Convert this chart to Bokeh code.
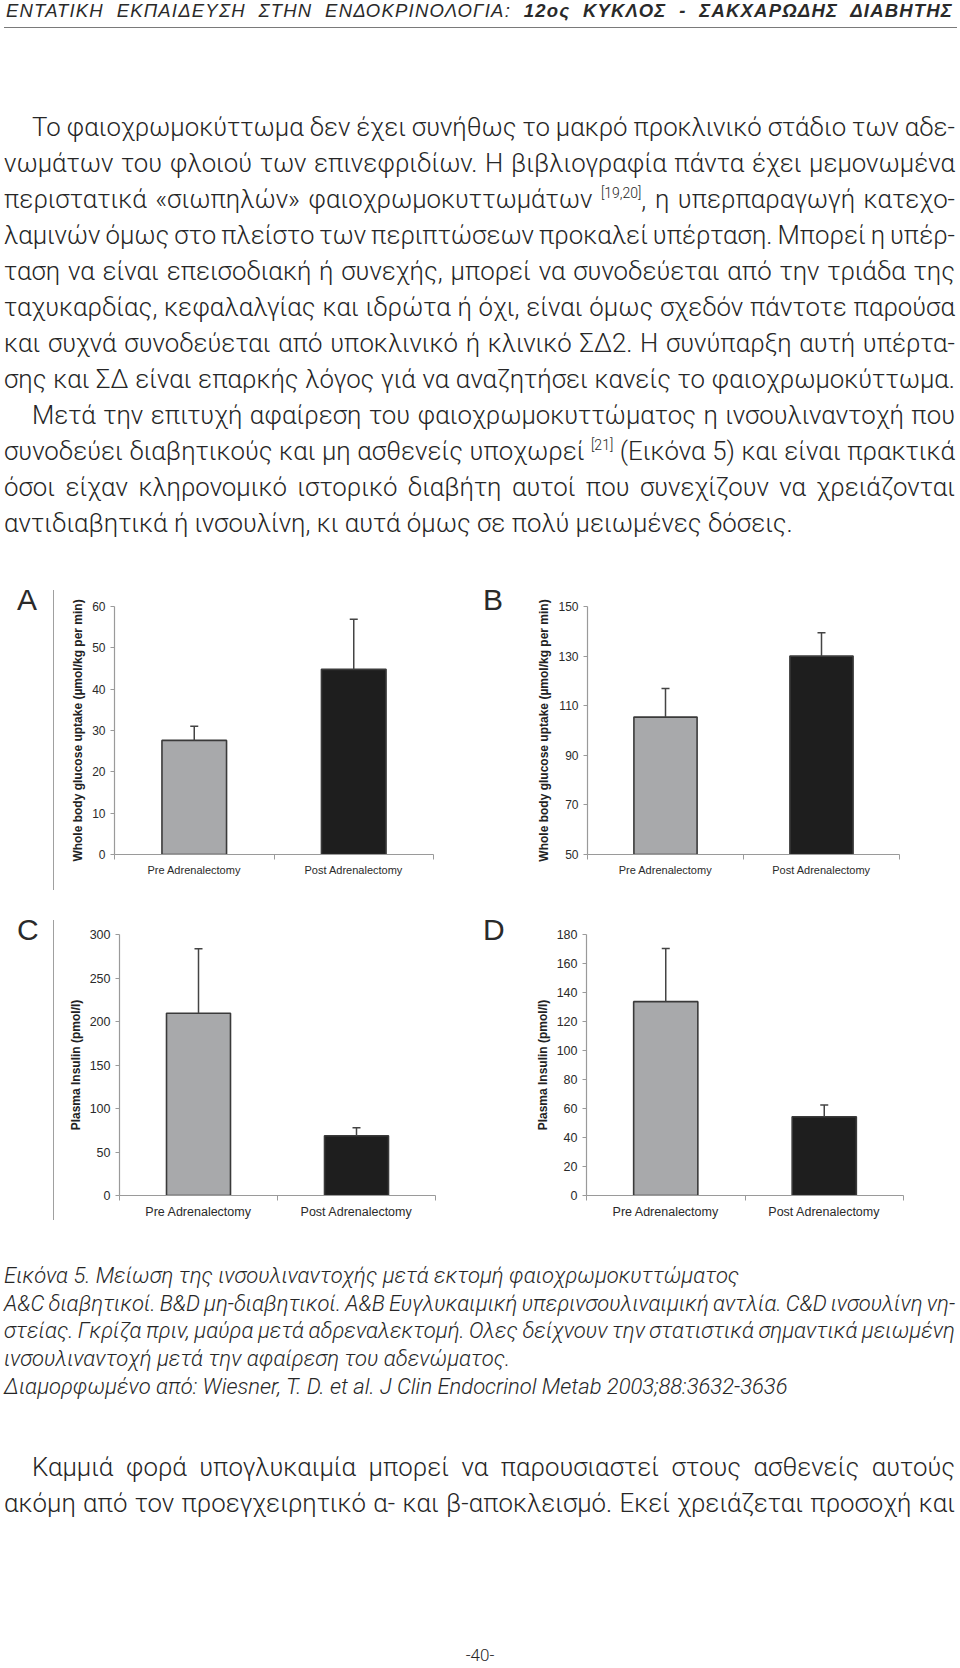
from bokeh.plotting import figure
from bokeh.models import Range1d, FixedTicker, Whisker, TeeHead, ColumnDataSource, Div
from bokeh.layouts import column, row
from bokeh.embed import file_html
from bokeh.resources import INLINE

# ---------------- data ----------------
categories = ["Pre Adrenalectomy", "Post Adrenalectomy"]
bar_colors = ["#a8a9ab", "#1e1e1e"]

a_mean = [27.6, 44.8]
a_err = [3.4, 12.1]
a_ticks = [0, 10, 20, 30, 40, 50, 60]
a_label = "Whole body glucose uptake (µmol/kg per min)"

b_mean = [105.4, 130.0]
b_err = [11.5, 9.4]
b_ticks = [50, 70, 90, 110, 130, 150]
b_label = "Whole body glucose uptake (µmol/kg per min)"

c_mean = [209.5, 68.6]
c_err = [74.1, 9.2]
c_ticks = [0, 50, 100, 150, 200, 250, 300]
c_label = "Plasma Insulin (pmol/l)"

d_mean = [133.7, 54.3]
d_err = [36.6, 8.1]
d_ticks = [0, 20, 40, 60, 80, 100, 120, 140, 160, 180]
d_label = "Plasma Insulin (pmol/l)"

header_light = "ΕΝΤΑΤΙΚΗ ΕΚΠΑΙΔΕΥΣΗ ΣΤΗΝ ΕΝΔΟΚΡΙΝΟΛΟΓΙΑ: "
header_bold = "12ος ΚΥΚΛΟΣ - ΣΑΚΧΑΡΩΔΗΣ ΔΙΑΒΗΤΗΣ"

SUP1 = "[19,20]"
SUP2 = "[21]"
para1 = [
    ("Το φαιοχρωμοκύττωμα δεν έχει συνήθως το μακρό προκλινικό στάδιο των αδε-", True, True),
    ("νωμάτων του φλοιού των επινεφριδίων. Η βιβλιογραφία πάντα έχει μεμονωμένα", False, True),
    ("περιστατικά «σιωπηλών» φαιοχρωμοκυττωμάτων {S1}, η υπερπαραγωγή κατεχο-", False, True),
    ("λαμινών όμως στο πλείστο των περιπτώσεων προκαλεί υπέρταση. Μπορεί η υπέρ-", False, True),
    ("ταση να είναι επεισοδιακή ή συνεχής, μπορεί να συνοδεύεται από την τριάδα της", False, True),
    ("ταχυκαρδίας, κεφαλαλγίας και ιδρώτα ή όχι, είναι όμως σχεδόν πάντοτε παρούσα", False, True),
    ("και συχνά συνοδεύεται από υποκλινικό ή κλινικό ΣΔ2. Η συνύπαρξη αυτή υπέρτα-", False, True),
    ("σης και ΣΔ είναι επαρκής λόγος γιά να αναζητήσει κανείς το φαιοχρωμοκύττωμα.", False, True),
    ("Μετά την επιτυχή αφαίρεση του φαιοχρωμοκυττώματος η ινσουλιναντοχή που", True, True),
    ("συνοδεύει διαβητικούς και μη ασθενείς υποχωρεί {S2} (Εικόνα 5) και είναι πρακτικά", False, True),
    ("όσοι είχαν κληρονομικό ιστορικό διαβήτη αυτοί που συνεχίζουν να χρειάζονται", False, True),
    ("αντιδιαβητικά ή ινσουλίνη, κι αυτά όμως σε πολύ μειωμένες δόσεις.", False, False),
]
caption = [
    ("Εικόνα 5. Μείωση της ινσουλιναντοχής μετά εκτομή φαιοχρωμοκυττώματος", False),
    ("A&amp;C διαβητικοί. B&amp;D μη-διαβητικοί. A&amp;B Ευγλυκαιμική υπερινσουλιναιμική αντλία. C&amp;D ινσουλίνη νη-", True),
    ("στείας. Γκρίζα πριν, μαύρα μετά αδρεναλεκτομή. Ολες δείχνουν την στατιστικά σημαντικά μειωμένη", True),
    ("ινσουλιναντοχή μετά την αφαίρεση του αδενώματος.", False),
    ("Διαμορφωμένο από: Wiesner, T. D. et al. J Clin Endocrinol Metab 2003;88:3632-3636", False),
]
para2 = [
    ("Καμμιά φορά υπογλυκαιμία μπορεί να παρουσιαστεί στους ασθενείς αυτούς", True, True),
    ("ακόμη από τον προεγχειρητικό α- και β-αποκλεισμό. Εκεί χρειάζεται προσοχή και", False, True),
]
page_number = "-40-"

BODY_FONT = "font-family:Roboto,'Noto Sans',sans-serif;font-weight:300;color:#262626;"
SUP_HTML = '<span style="font-size:14px;position:relative;top:-10px;">{}</span>'
PAGE_W = 956
JUST = "text-align:justify;text-align-last:justify;word-spacing:-4px;"


def body_lines(lines, top, size, lh, width=951, left=4):
    out = [f'<div style="position:absolute;left:{left}px;top:{top}px;width:{width}px;{BODY_FONT}font-size:{size}px;line-height:{lh}px;">']
    for txt, indent, just in lines:
        txt = txt.replace("{S1}", SUP_HTML.format(SUP1)).replace("{S2}", SUP_HTML.format(SUP2))
        ind = "text-indent:28px;" if indent else ""
        al = JUST if just else "text-align:left;"
        out.append(f'<div style="{ind}{al}height:{lh}px;">{txt}</div>')
    out.append('</div>')
    return "".join(out)


def caption_lines(lines, top, size, lh, width=951, left=4):
    out = [f'<div style="position:absolute;left:{left}px;top:{top}px;width:{width}px;{BODY_FONT}font-style:italic;font-size:{size}px;line-height:{lh}px;">']
    for txt, just in lines:
        al = JUST if just else "text-align:left;"
        out.append(f'<div style="{al}height:{lh}px;">{txt}</div>')
    out.append('</div>')
    return "".join(out)


# ---------------- top text block ----------------
TOP_H = 585
top_html = (
    f'<div style="position:relative;width:{PAGE_W}px;height:{TOP_H}px;">'
    '<div style="position:absolute;left:6px;top:1px;width:947px;font-family:\'Liberation Sans Narrow\',sans-serif;'
    'font-style:italic;font-size:18.5px;line-height:19px;letter-spacing:1.2px;color:#2a2a2a;'
    'text-align:justify;text-align-last:justify;">'
    f'{header_light}<b>{header_bold}</b></div>'
    '<div style="position:absolute;left:4px;top:27px;width:953px;height:0;border-top:1px solid #7a7a7a;"></div>'
    + body_lines(para1, 109, 25.8, 36) +
    '</div>'
)
top_div = Div(text=top_html, width=PAGE_W, height=TOP_H, margin=0)


# ---------------- charts ----------------
def make_chart(mean, err, ticks, ylabel, width, height, bl, br, bt, bb, tfs, xfs):
    p = figure(width=width, height=height,
               x_range=Range1d(0, len(categories)),
               y_range=Range1d(ticks[0], ticks[-1]),
               output_backend="svg", toolbar_location=None,
               min_border_left=bl, min_border_right=br,
               min_border_top=bt, min_border_bottom=bb)
    p.outline_line_color = None
    p.grid.visible = False
    p.background_fill_color = "white"
    p.border_fill_color = "white"
    xs = [i + 0.5 for i in range(len(categories))]
    src = ColumnDataSource(dict(x=xs, top=mean,
                                upper=[m + e for m, e in zip(mean, err)],
                                color=bar_colors))
    p.vbar(x="x", top="top", bottom=ticks[0], width=0.405, fill_color="color",
           line_color="#3a3a3a", line_width=1.6, source=src)
    w = Whisker(base="x", lower="top", upper="upper", source=src, dimension="height",
                line_color="#444444", line_width=1.5, level="overlay",
                upper_head=TeeHead(size=8, line_color="#444444", line_width=1.5),
                lower_head=None)
    p.add_layout(w)

    xa = p.xaxis[0]
    xa.ticker = FixedTicker(ticks=xs, minor_ticks=list(range(len(categories) + 1)))
    xa.major_label_overrides = {x: c for x, c in zip(xs, categories)}
    xa.major_tick_line_color = None
    xa.minor_tick_line_color = "#9a9a9a"
    xa.minor_tick_out = 5
    xa.minor_tick_in = 0
    xa.axis_line_color = "#9a9a9a"
    xa.axis_line_width = 1.2
    xa.major_label_standoff = 3
    xa.major_label_text_font = "Liberation Sans"
    xa.major_label_text_font_size = xfs
    xa.major_label_text_color = "#2a2a2a"

    ya = p.yaxis[0]
    ya.ticker = FixedTicker(ticks=ticks, minor_ticks=[])
    ya.major_tick_out = 4
    ya.major_tick_in = 0
    ya.major_tick_line_color = "#9a9a9a"
    ya.axis_line_color = "#9a9a9a"
    ya.axis_line_width = 1.2
    ya.major_label_standoff = 5
    ya.major_label_text_font = "Liberation Sans"
    ya.major_label_text_font_size = tfs
    ya.major_label_text_color = "#2a2a2a"
    ya.axis_label = ylabel
    ya.axis_label_text_font = "Liberation Sans"
    ya.axis_label_text_font_style = "bold"
    ya.axis_label_text_font_size = "12px"
    ya.axis_label_text_color = "#222222"
    ya.axis_label_standoff = 4
    return p


def letter_div(letter, width, height, left, line):
    html = f'<div style="position:relative;width:{width}px;height:{height}px;">'
    html += (f'<div style="position:absolute;left:{left}px;top:0px;font-family:\'Liberation Sans\',sans-serif;'
             f'font-size:30px;line-height:30px;color:#2a2a2a;">{letter}</div>')
    if line:
        html += (f'<div style="position:absolute;left:{width - 1}px;top:5px;width:0;height:300px;'
                 'border-left:1px solid #a0a0a0;"></div>')
    html += '</div>'
    return Div(text=html, width=width, height=height, margin=0)


figA = make_chart(a_mean, a_err, a_ticks, a_label, 416, 330, 60, 37, 21, 61, "12px", "11px")
figB = make_chart(b_mean, b_err, b_ticks, b_label, 432, 330, 67, 53, 21, 61, "12px", "11px")
figC = make_chart(c_mean, c_err, c_ticks, c_label, 416, 325, 65, 35, 19, 45, "12.5px", "12.5px")
figD = make_chart(d_mean, d_err, d_ticks, d_label, 432, 325, 66, 49, 19, 45, "12.5px", "12.5px")

row1 = row(letter_div("A", 54, 330, 17, True), figA, letter_div("B", 50, 330, 13, False), figB, spacing=0)
row2 = row(letter_div("C", 54, 325, 17, True), figC, letter_div("D", 50, 325, 13, False), figD, spacing=0)

# ---------------- bottom text block ----------------
BOT_H = 425
bottom_html = (
    f'<div style="position:relative;width:{PAGE_W}px;height:{BOT_H}px;">'
    + caption_lines(caption, 22, 22, 27.7) +
    body_lines(para2, 209, 25.8, 36) +
    f'<div style="position:absolute;left:0;top:406px;width:960px;text-align:center;{BODY_FONT}'
    f'font-size:17px;line-height:18px;">{page_number}</div>'
    '</div>'
)
bottom_div = Div(text=bottom_html, width=PAGE_W, height=BOT_H, margin=0)

layout = column(top_div, row1, row2, bottom_div, spacing=0)

with open("out.html", "w") as f:
    f.write(file_html(layout, INLINE))
